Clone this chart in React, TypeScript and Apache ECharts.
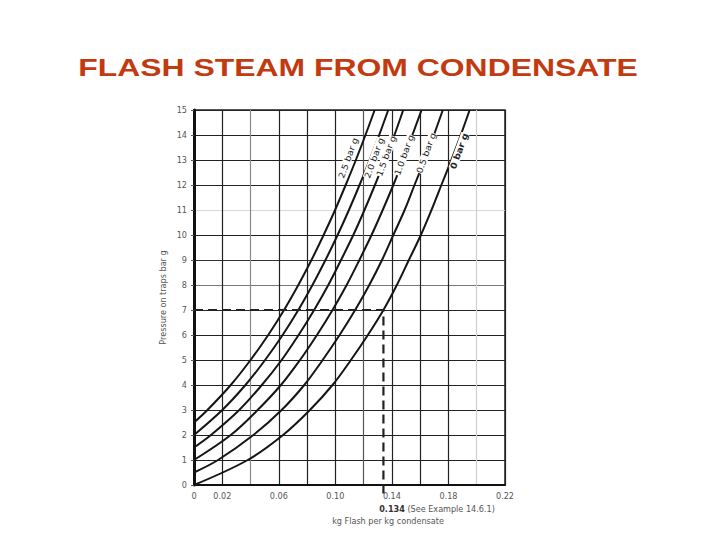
import React, { useEffect, useRef } from "react";
import * as echarts from "echarts";

// Flash (kg per kg condensate) vs pressure on traps (bar g), one curve per back pressure
const curveNames = ["2.5 bar g", "2.0 bar g", "1.5 bar g", "1.0 bar g", "0.5 bar g", "0 bar g"];

const flash0: number[][] = [
  [0, 0], [0.038, 1], [0.063, 2], [0.082, 3], [0.098, 4], [0.111, 5], [0.123, 6], [0.134, 7],
  [0.1435, 8], [0.152, 9], [0.1605, 10], [0.168, 11], [0.175, 12], [0.182, 13], [0.1887, 14], [0.195, 15],
];
const flash05: number[][] = [
  [0, 0.5], [0.017, 1], [0.042, 2], [0.062, 3], [0.078, 4], [0.091, 5], [0.103, 6], [0.114, 7],
  [0.124, 8], [0.133, 9], [0.141, 10], [0.149, 11], [0.156, 12], [0.163, 13], [0.1697, 14], [0.176, 15],
];
const flash10: number[][] = [
  [0, 1], [0.026, 2], [0.045, 3], [0.0615, 4], [0.075, 5], [0.087, 6], [0.098, 7], [0.108, 8],
  [0.117, 9], [0.1256, 10], [0.1335, 11], [0.141, 12], [0.148, 13], [0.1545, 14], [0.161, 15],
];
const flash15: number[][] = [
  [0, 1.5], [0.012, 2], [0.032, 3], [0.048, 4], [0.062, 5], [0.074, 6], [0.085, 7], [0.095, 8],
  [0.104, 9], [0.1127, 10], [0.1206, 11], [0.128, 12], [0.135, 13], [0.1418, 14], [0.148, 15],
];
const flash20: number[][] = [
  [0, 2], [0.02, 3], [0.0364, 4], [0.0503, 5], [0.0627, 6], [0.0738, 7], [0.0838, 8], [0.093, 9],
  [0.1016, 10], [0.1096, 11], [0.1171, 12], [0.1242, 13], [0.131, 14], [0.1374, 15],
];
const flash25: number[][] = [
  [0, 2.5], [0.0095, 3], [0.026, 4], [0.040, 5], [0.0525, 6], [0.0637, 7], [0.0738, 8], [0.0831, 9],
  [0.0917, 10], [0.0998, 11], [0.1073, 12], [0.1145, 13], [0.1213, 14], [0.1278, 15],
];
const curveData = [flash25, flash20, flash15, flash10, flash05, flash0];

// Worked example: 7 bar g trap pressure -> 0.134 kg flash
const exampleLine: number[][] = [[0, 7], [0.134, 7], [0.134, -0.4]];

const xTickLabels = ["0", "0.02", "", "0.06", "", "0.10", "", "0.14", "", "0.18", "", "0.22"];
const yTickLabels = ["0", "1", "2", "3", "4", "5", "6", "7", "8", "9", "10", "11", "12", "13", "14", "15"];

const xGridColors = ["#222", "#222", "#8a8a8a", "#222", "#222", "#222", "#555", "#222", "#222", "#222", "#cfcfcf", "#222"];
const yGridColors = ["#222", "#222", "#222", "#222", "#222", "#222", "#222", "#222", "#777", "#333", "#222", "#d8d8d8", "#222", "#222", "#222", "#222"];

const labelPos: number[][] = [[348, 158], [374, 158], [386, 156], [404, 155], [426, 153], [459, 151]];

const FONT = "'Liberation Sans Narrow', 'DejaVu Sans Condensed', 'Liberation Sans', sans-serif";

export default function App() {
  const ref = useRef<HTMLDivElement>(null);
  useEffect(() => {
    if (!ref.current) return;
    const chart = echarts.init(ref.current, undefined, { renderer: "svg" });
    const series: any[] = curveData.map((d, i) => ({
      type: "line",
      name: curveNames[i],
      data: d,
      smooth: 0.35,
      symbol: "none",
      lineStyle: { color: "#151515", width: 2 },
      z: 5,
    }));
    series.push({
      type: "line",
      name: "example",
      data: exampleLine,
      symbol: "none",
      clip: false,
      lineStyle: { color: "#222", width: 2.2, type: [9, 5] },
      z: 6,
    });
    const graphics: any[] = curveNames.map((n, i) => ({
      type: "text",
      x: labelPos[i][0],
      y: labelPos[i][1],
      rotation: (70 * Math.PI) / 180,
      scaleX: 1.05,
      scaleY: 0.85,
      z: 50,
      style: {
        text: n,
        fill: "#222",
        font: `${i === 5 ? "bold " : ""}10px ${FONT}`,
        align: "center",
        verticalAlign: "middle",
        backgroundColor: "#fff",
      },
    }));
    graphics.push({
      type: "text",
      x: 358,
      y: 68,
      scaleX: 1.33,
      style: {
        text: "FLASH STEAM FROM CONDENSATE",
        fill: "#c23a10",
        font: "bold 24px 'Liberation Sans', Arial, sans-serif",
        align: "center",
        verticalAlign: "middle",
      },
    });
    graphics.push({
      type: "text",
      x: 437,
      y: 509,
      style: {
        text: "{b|0.134} (See Example 14.6.1)",
        rich: {
          b: { font: `bold 9px ${FONT}`, fill: "#333" },
        },
        font: `9px ${FONT}`,
        fill: "#555",
        align: "center",
        verticalAlign: "middle",
      },
    });
    graphics.push({
      type: "text",
      x: 388,
      y: 521,
      style: {
        text: "kg Flash per kg condensate",
        font: `9px ${FONT}`,
        fill: "#555",
        align: "center",
        verticalAlign: "middle",
      },
    });

    chart.setOption({
      animation: false,
      backgroundColor: "#fff",
      grid: { left: 194, right: 215, top: 110, bottom: 55, show: true, borderColor: "#222", borderWidth: 1.5 },
      xAxis: {
        type: "value",
        min: 0,
        max: 0.22,
        interval: 0.02,
        axisLine: { show: true, lineStyle: { color: "#111", width: 2 } },
        axisTick: { show: false },
        axisLabel: {
          color: "#555",
          fontSize: 9,
          fontFamily: FONT,
          margin: 6,
          formatter: (v: number) => xTickLabels[Math.round(v * 50)] ?? "",
        },
        splitLine: { show: true, lineStyle: { color: xGridColors, width: 1.2 } },
      },
      yAxis: {
        type: "value",
        min: 0,
        max: 15,
        interval: 1,
        name: "Pressure on traps bar g",
        nameLocation: "middle",
        nameGap: 27,
        nameRotate: 90,
        nameTextStyle: { color: "#555", fontSize: 9, fontFamily: FONT },
        axisLine: { show: true, lineStyle: { color: "#111", width: 3 } },
        axisTick: { show: true, length: 3, lineStyle: { color: "#555" } },
        axisLabel: {
          color: "#555",
          fontSize: 9,
          fontFamily: FONT,
          margin: 7,
          formatter: (v: number) => yTickLabels[Math.round(v)] ?? "",
        },
        splitLine: { show: true, lineStyle: { color: yGridColors, width: 1.2 } },
      },
      series,
      graphic: graphics,
    });
    return () => chart.dispose();
  }, []);
  return <div ref={ref} style={{ position: "fixed", left: 0, top: 0, width: 720, height: 540 }} />;
}
